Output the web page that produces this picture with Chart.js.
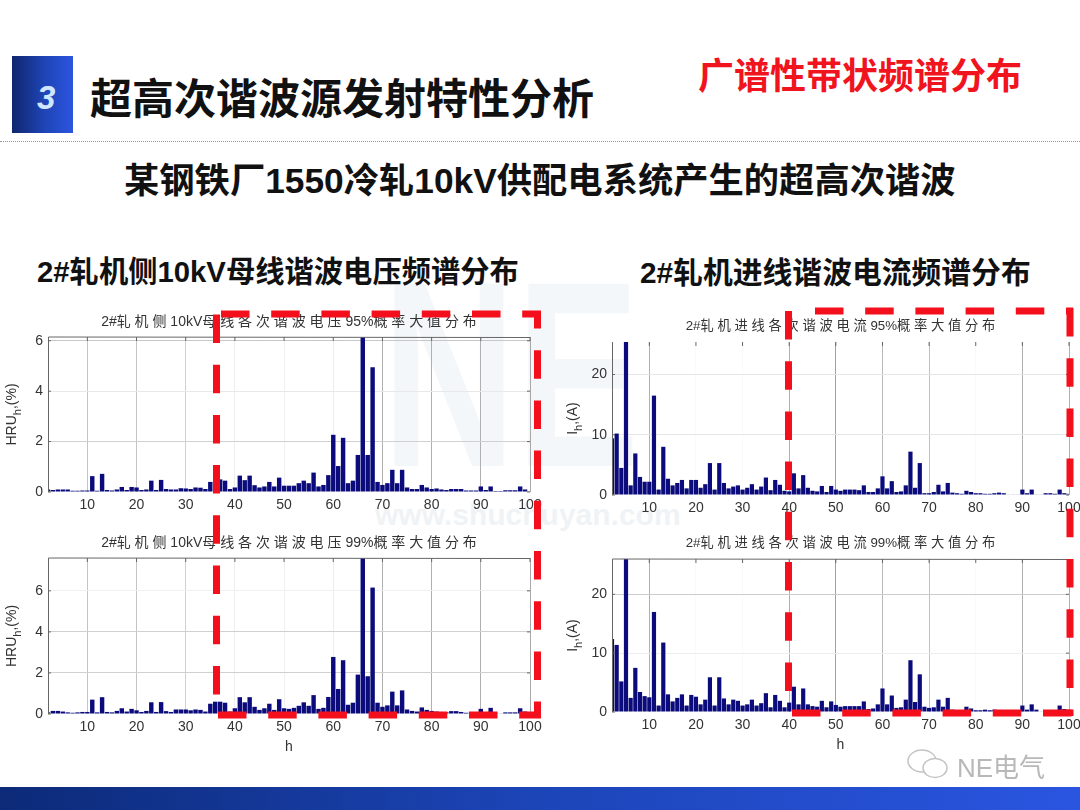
<!DOCTYPE html>
<html>
<head>
<meta charset="utf-8">
<script src="https://cdn.jsdelivr.net/npm/chart.js@4"></script>
<style>
html, body { margin: 0; padding: 0; background: #fff; }
#slide { position: relative; width: 1080px; height: 810px; overflow: hidden; background: #fff; }
#slide canvas { position: absolute; }
.t { position: absolute; white-space: nowrap; font-family: "Liberation Sans", "Noto Sans CJK SC", sans-serif; font-weight: 700; color: #111; line-height: 1; }
#badge { position: absolute; left: 12px; top: 56px; width: 61px; height: 77px; background: linear-gradient(90deg, #10266e 0%, #1f45b8 55%, #2c55e0 100%); }
#num { position: absolute; left: 37px; top: 79px; font: italic 700 33px "Liberation Sans", sans-serif; color: #cfe6ff; }
#rule { position: absolute; left: 0; top: 141px; width: 1080px; border-top: 1px dotted #999; }
#band { position: absolute; left: 0; top: 787px; width: 1080px; height: 23px; background: linear-gradient(90deg, #0c2a78 0%, #1c45b8 50%, #2a55e0 100%); }
#mark { position: absolute; left: 957px; top: 747px; font: 26px "Liberation Sans", "Noto Sans CJK SC", sans-serif; color: #b8b8b8; }
#wm { position: absolute; left: 375px; top: 498px; font: 700 30px "Liberation Sans", sans-serif; color: #f0f3f5; }
#wm2 { position: absolute; left: 382px; top: 242px; font: 700 265px "Liberation Sans", sans-serif; color: #f4f7f9; line-height: 1; transform: scaleX(.7); transform-origin: left top; }
#red { position: absolute; left: 0; top: 0; }
#wechat { position: absolute; left: 0; top: 0; }
</style>
</head>
<body>
<div id="slide">
  <div id="wm2">NE</div>
  <div id="wm">www.shuchuyan.com</div>
  <div id="badge"></div><div id="num">3</div>
  <div class="t" style="left:90px;top:75px;font-size:42px;font-family:'Noto Sans CJK SC',sans-serif">超高次谐波源发射特性分析</div>
  <div class="t" style="left:698px;top:55px;font-size:36px;color:#f0141e;font-family:'Noto Sans CJK SC',sans-serif">广谱性带状频谱分布</div>
  <div id="rule"></div>
  <div class="t" style="left:124px;top:163px;font-size:35.3px">某钢铁厂1550冷轧10kV供配电系统产生的超高次谐波</div>
  <div class="t" style="left:37px;top:257px;font-size:29.3px">2#轧机侧10kV母线谐波电压频谱分布</div>
  <div class="t" style="left:640px;top:258px;font-size:29.8px">2#轧机进线谐波电流频谱分布</div>
  <canvas id="c1"></canvas>
  <canvas id="c2"></canvas>
  <canvas id="c3"></canvas>
  <canvas id="c4"></canvas>
  <svg id="red" width="1080" height="810" fill="none" stroke="#f40f1c" stroke-width="7" stroke-dasharray="28.5 21.7">
    <path d="M221 314H541"/>
    <path d="M537.5 311V718" stroke-dashoffset="11"/>
    <path d="M216.5 314.5V700"/>
    <path d="M218 715H541"/>
    <path d="M815 311H1073"/>
    <path d="M1070 308V716"/>
    <path d="M788.5 311V695"/>
    <path d="M792 713H1073"/>
  </svg>
  <svg id="wechat" width="1080" height="810" fill="#fff" stroke="#c4c4c4" stroke-width="1.5">
    <ellipse cx="922" cy="761" rx="14" ry="11"/>
    <ellipse cx="935" cy="768" rx="12" ry="9.5"/>
  </svg>
  <div id="band"></div>
  <div id="mark">NE电气</div>
</div>
<script>
const harmonics = [];
for (let h = 2; h <= 100; h++) harmonics.push(h);
const xTicks = [10,20,30,40,50,60,70,80,90,100];

const voltage95 = [.1,.08,.1,.1,.1,.05,.05,.06,.06,.63,.05,.72,.08,.06,.1,.2,.08,.2,.18,.08,.1,.45,.08,.48,.12,.1,.1,.15,.14,.12,.18,.17,.12,.4,.5,.5,.45,.12,.18,.65,.47,.65,.27,.18,.22,.4,.22,.57,.25,
  .25,.25,.35,.45,.35,.77,.22,.28,.67,2.27,1.03,2.15,.35,.45,1.47,6.3,1.47,4.95,.4,.28,.35,.88,.35,.88,.18,.12,.12,.28,.18,.12,.14,.1,.08,.12,.12,.12,.06,.06,.06,.22,.08,.22,.04,.04,.07,.07,.07,.22,.1,.03];
const voltage99 = [.08,.15,.15,.12,.08,.06,.08,.1,.1,.7,.08,.82,.1,.08,.15,.28,.12,.25,.18,.1,.15,.57,.1,.58,.14,.1,.22,.22,.22,.18,.22,.2,.12,.5,.6,.6,.55,.12,.28,.82,.57,.82,.35,.2,.28,.5,.2,.72,.28,
  .25,.3,.4,.57,.4,.92,.25,.3,.83,2.78,1.22,2.62,.45,.55,1.92,7.8,1.84,6.16,.55,.35,.42,1.09,.42,1.15,.22,.15,.12,.32,.2,.15,.12,.1,.08,.14,.14,.1,.06,.06,.08,.25,.08,.3,.04,.03,.08,.08,.08,.28,.12,.03];
const current95 = [9.4,10.2,4.5,25.6,1.6,6.9,3,2.2,2.2,16.5,.9,8,2.7,1.6,2,2.5,1.1,2.5,2.5,1.2,1.8,5.3,.9,5.3,2,1.1,1.4,1.6,.9,1.2,1.8,.9,1.4,2.9,.8,2.5,1.7,.7,.6,3.6,1.1,3.3,1.2,.7,.6,1.5,.5,1.5,.9,
  .7,.9,.9,.9,.8,1.6,.5,.5,1.1,3.1,1.1,2.3,.5,.6,1.6,7.2,1.2,5.3,.3,.3,.5,1.7,.6,2,.4,.3,.2,.7,.5,.3,.3,.2,.2,.3,.4,.3,.1,.1,.1,.9,.3,.9,.1,.1,.3,.3,.2,.9,.3,.2];
const current99 = [12.4,11.4,5.2,26.5,2.4,7.5,3.4,2.7,2.5,17,1.1,11.8,3,1.8,2.4,3,1.1,2.9,2.6,1.3,2.1,5.9,1.1,5.9,2.3,1.3,2.1,1.9,1.1,1.3,2.1,1.1,1.5,3.2,.8,2.9,1.9,.8,1.6,4.3,1.3,4,1.3,1,.9,1.9,.8,1.8,1.2,
  .9,1,1,1,1,1.8,.5,.6,1.3,4,1.3,2.8,.7,.8,2.1,8.8,1.7,6.4,.9,.7,.8,2.1,.9,2.4,.4,.3,.3,.9,.6,.3,.3,.4,.3,.4,.3,.2,.1,.1,.1,1.1,.4,1.3,.4,.1,.3,.3,.2,1.1,.5,.2];

const voltageTicks = [0,2,4,6];
const currentTicks = [0,10,20];

const title1 = '2#轧 机 侧 10kV母 线 各 次 谐 波 电 压 95%概 率 大 值 分 布';
const title2 = '2#轧 机 侧 10kV母 线 各 次 谐 波 电 压 99%概 率 大 值 分 布';
const title3 = '2#轧 机 进 线 各 次 谐 波 电 流 95%概 率 大 值 分 布';
const title4 = '2#轧 机 进 线 各 次 谐 波 电 流 99%概 率 大 值 分 布';

// gridline shades, the scan washes most of them out unevenly
const gridLeftX = {10:'#c4c4c4',20:'#c4c4c4',30:'#d0d0d0',40:'#eeeeee',50:'#f0f0f0',60:'#ececec',70:'#b0b0b0',80:'#b0b0b0',90:'#b0b0b0',100:'#a8a8a8'};
const gridRightX = {10:'#b0b0b0',20:'#fafafa',30:'#fafafa',40:'#b0b0b0',50:'#a0a0a0',60:'#b8b8b8',70:'#c0c0c0',80:'#fafafa',90:'#b0b0b0',100:'#b0b0b0'};
const gridLeftY = {0:'#00000000',2:'#d0d0d0',4:'#e8e8e8',6:'#c8c8c8'};
const gridLeftY99 = {0:'#00000000',2:'#d0d0d0',4:'#d0d0d0',6:'#f0f0f0'};
const gridRightY = {0:'#00000000',10:'#e6e6e6',20:'#e6e6e6'};
const gridRightY99 = {0:'#00000000',10:'#eeeeee',20:'#cccccc'};

const axisFont = {family: '"Liberation Sans", sans-serif', size: 14};
const sideW = 50, topH = 30, bottomH = 46;

// frame, small axis ticks and the y label with its subscript h
const framePlugin = {
  id: 'frame',
  afterDraw(chart, args, o) {
    const a = chart.chartArea, ctx = chart.ctx;
    ctx.save();
    ctx.strokeStyle = '#666';
    ctx.lineWidth = 1;
    ctx.beginPath();
    ctx.moveTo(a.left + .5, a.bottom);
    ctx.lineTo(a.left + .5, a.top);
    if (o.top) ctx.lineTo(a.right, a.top + .5);
    chart.scales.x.ticks.forEach(t => {
      const px = chart.scales.x.getPixelForValue(t.value);
      ctx.moveTo(px, a.top);
      ctx.lineTo(px, a.top + 4);
    });
    chart.scales.y.ticks.forEach(t => {
      const py = chart.scales.y.getPixelForValue(t.value);
      ctx.moveTo(a.left, py);
      ctx.lineTo(a.left + 3, py);
      ctx.moveTo(a.right, py);
      ctx.lineTo(a.right - 3, py);
    });
    ctx.stroke();
    ctx.translate(o.labelX, (a.top + a.bottom) / 2 + o.labelShift);
    ctx.rotate(-Math.PI / 2);
    ctx.fillStyle = '#333';
    ctx.textBaseline = 'alphabetic';
    ctx.font = '14px "Liberation Sans", sans-serif';
    const w1 = ctx.measureText(o.head).width, w3 = ctx.measureText(o.tail).width;
    ctx.font = '11px "Liberation Sans", sans-serif';
    const w2 = ctx.measureText('h').width;
    let x = -(w1 + w2 + w3) / 2;
    ctx.font = '14px "Liberation Sans", sans-serif';
    ctx.fillText(o.head, x, 0);
    ctx.font = '11px "Liberation Sans", sans-serif';
    ctx.fillText('h', x + w1, 5);
    ctx.font = '14px "Liberation Sans", sans-serif';
    ctx.fillText(o.tail, x + w1 + w2, 0);
    ctx.restore();
  }
};

function makeChart(id, box, values, yMax, yTicks, title, titleSize, head, tail, showH, top, gridX, gridY) {
  const cv = document.getElementById(id);
  const w = box.right - box.left + sideW * 2, h = box.bottom - box.top + topH + bottomH;
  cv.style.left = (box.left - sideW) + 'px';
  cv.style.top = (box.top - topH) + 'px';
  cv.style.width = w + 'px';
  cv.style.height = h + 'px';
  cv.width = w;
  cv.height = h;
  return new Chart(cv, {
    type: 'bar',
    plugins: [framePlugin],
    data: {
      labels: harmonics,
      datasets: [{
        data: values.map((v, i) => ({x: harmonics[i], y: v})),
        backgroundColor: '#0b0b7c',
        barPercentage: .9,
        categoryPercentage: 1,
      }]
    },
    options: {
      responsive: false,
      animation: false,
      layout: {autoPadding: false, padding: {left: 0, right: sideW, top: 0, bottom: 0}},
      plugins: {
        legend: {display: false},
        tooltip: {enabled: false},
        title: {
          display: true,
          fullSize: false,
          text: title,
          color: '#333',
          font: {family: '"Liberation Sans", "Noto Sans CJK SC", sans-serif', size: titleSize, weight: 'normal', lineHeight: 1},
          padding: {top: box.titleTop, bottom: topH - box.titleTop - titleSize},
        },
        frame: {head: head, tail: tail, labelX: box.labelX, labelShift: box.labelShift, top: top},
      },
      scales: {
        x: {
          type: 'linear',
          min: 2,
          max: 100,
          offset: false,
          afterBuildTicks: s => { s.ticks = xTicks.map(v => ({value: v})); },
          afterFit: s => { s.height = bottomH; },
          grid: {offset: false, color: c => gridX[c.tick.value], drawTicks: false},
          border: {display: false},
          ticks: {color: '#333', font: axisFont, padding: 5, maxRotation: 0, autoSkip: false},
          title: {display: showH, text: 'h', color: '#333', font: axisFont, padding: {top: 0, bottom: 4}},
        },
        y: {
          min: 0,
          max: yMax,
          afterBuildTicks: s => { s.ticks = yTicks.map(v => ({value: v})); },
          afterFit: s => { s.width = sideW; },
          grid: {color: c => gridY[c.tick.value], drawTicks: false},
          border: {display: false},
          ticks: {color: '#333', font: axisFont, padding: 5},
        },
      },
    },
  });
}

makeChart('c1', {left: 47.5, right: 530, top: 337, bottom: 492, labelX: 18, labelShift: 0, titleTop: 8}, voltage95, 6.15, voltageTicks, title1, 14, 'HRU', ',(%)', false, true, gridLeftX, gridLeftY);
makeChart('c2', {left: 47.5, right: 530, top: 558, bottom: 714, labelX: 18, labelShift: 0, titleTop: 8}, voltage99, 7.6, voltageTicks, title2, 14, 'HRU', ',(%)', true, true, gridLeftX, gridLeftY99);
makeChart('c3', {left: 611.5, right: 1069, top: 342, bottom: 495, labelX: 15, labelShift: 0, titleTop: 8}, current95, 25.4, currentTicks, title3, 13.3, 'I', ',(A)', false, false, gridRightX, gridRightY);
makeChart('c4', {left: 611.5, right: 1069, top: 559, bottom: 712, labelX: 15, labelShift: 0, titleTop: 8}, current99, 26, currentTicks, title4, 13.3, 'I', ',(A)', true, true, gridRightX, gridRightY99);
</script>
</body>
</html>
